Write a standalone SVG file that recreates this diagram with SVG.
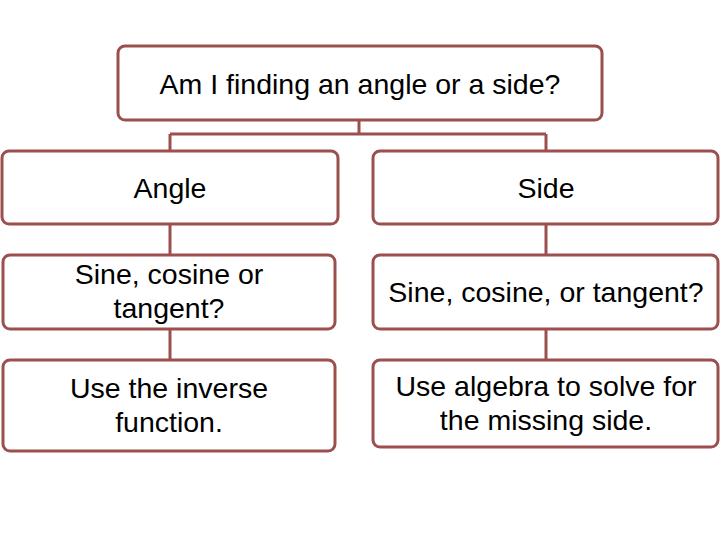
<svg xmlns="http://www.w3.org/2000/svg" width="720" height="540" viewBox="0 0 720 540">
<style>
.box{fill:#fff;stroke:#9b4f4f;stroke-width:3}
.conn{fill:none;stroke:#9b4f4f;stroke-width:3}
text{font-family:"Liberation Sans",Arial,sans-serif;font-size:28.5px;fill:#000;text-anchor:middle}
</style>
<rect width="720" height="540" fill="#fff"/>
<g id="connectors">
<path class="conn" d="M359 120 V134 M170 134 H546 M170 134 V150 M546 134 V150 M170 224 V255 M546 224 V255 M170 329 V359 M546 329 V359"/>
</g>
<g id="root"><rect class="box" x="118" y="46" width="484" height="74" rx="7"/><text x="360" y="94">Am I finding an angle or a side?</text></g>
<g id="angle"><rect class="box" x="2" y="151" width="336" height="73" rx="7"/><text x="170" y="198">Angle</text></g>
<g id="side"><rect class="box" x="373" y="151" width="345" height="73" rx="7"/><text x="546" y="198">Side</text></g>
<g id="angle-trig"><rect class="box" x="3" y="255" width="332" height="74" rx="7"/><text x="169" y="284">Sine, cosine or</text><text x="169" y="318">tangent?</text></g>
<g id="side-trig"><rect class="box" x="373" y="255" width="345" height="74" rx="7"/><text x="546" y="302">Sine, cosine, or tangent?</text></g>
<g id="angle-inv"><rect class="box" x="3" y="360" width="332" height="91" rx="7"/><text x="169" y="398">Use the inverse</text><text x="169" y="432">function.</text></g>
<g id="side-alg"><rect class="box" x="373" y="360" width="345" height="87" rx="7"/><text x="546" y="396">Use algebra to solve for</text><text x="546" y="430">the missing side.</text></g>
</svg>
